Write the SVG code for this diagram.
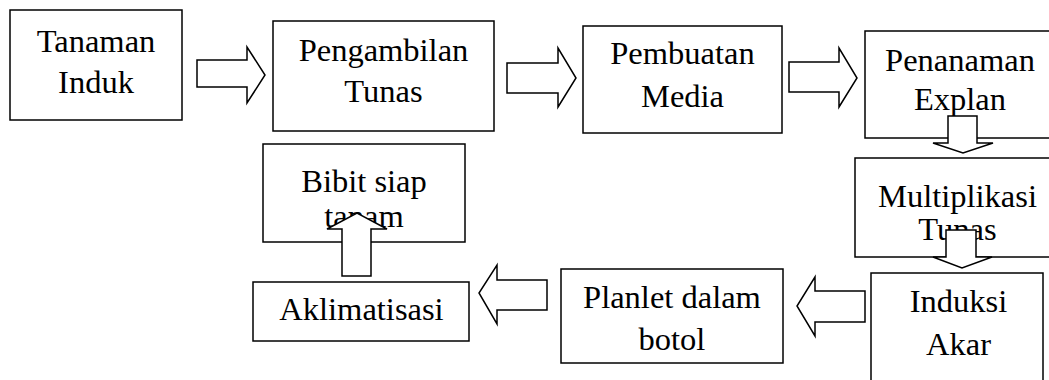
<svg xmlns="http://www.w3.org/2000/svg" width="1049" height="380" viewBox="0 0 1049 380">
  <style>
    .box { fill: #ffffff; stroke: #000000; stroke-width: 1.5; }
    .arrow { fill: #ffffff; stroke: #000000; stroke-width: 1.5; stroke-linejoin: miter; }
    text { font-family: "Liberation Serif", "Times New Roman", serif; font-size: 32.5px; fill: #000000; text-anchor: middle; }
  </style>
  <rect width="1049" height="380" fill="#ffffff"/>

  <g id="nodes">
    <g id="tanaman-induk">
      <rect class="box" x="10" y="10" width="172" height="110"/>
      <text x="96" y="52">Tanaman</text>
      <text x="96" y="93">Induk</text>
    </g>
    <g id="pengambilan-tunas">
      <rect class="box" x="273" y="21" width="221" height="110"/>
      <text x="383.5" y="61">Pengambilan</text>
      <text x="383.5" y="102">Tunas</text>
    </g>
    <g id="pembuatan-media">
      <rect class="box" x="583" y="26" width="199" height="107"/>
      <text x="682.5" y="64">Pembuatan</text>
      <text x="682.5" y="107">Media</text>
    </g>
    <g id="penanaman-explan">
      <rect class="box" x="865" y="31" width="190" height="107"/>
      <text x="960" y="71">Penanaman</text>
      <text x="960" y="110">Explan</text>
    </g>
    <g id="multiplikasi-tunas">
      <rect class="box" x="855" y="158" width="200" height="99"/>
      <text x="957.5" y="207">Multiplikasi</text>
      <text x="957.5" y="240">Tunas</text>
    </g>
    <g id="induksi-akar">
      <rect class="box" x="871" y="273" width="172" height="115"/>
      <text x="958.5" y="312">Induksi</text>
      <text x="958.5" y="355">Akar</text>
    </g>
    <g id="planlet-dalam-botol">
      <rect class="box" x="561" y="269" width="222" height="94"/>
      <text x="672" y="308">Planlet dalam</text>
      <text x="672" y="350">botol</text>
    </g>
    <g id="aklimatisasi">
      <rect class="box" x="253" y="282" width="216" height="59"/>
      <text x="361.5" y="320">Aklimatisasi</text>
    </g>
    <g id="bibit-siap-tanam">
      <rect class="box" x="263" y="144" width="202" height="98"/>
      <text x="364" y="192">Bibit siap</text>
      <text x="364" y="227">tanam</text>
    </g>
  </g>

  <g id="connectors">
    <!-- right-pointing block arrows along the top row -->
    <path class="arrow" d="M197,60 H247 V47 L265,75 L247,103 V87 H197 Z"/>
    <path class="arrow" d="M507,63 H558 V48 L576,78 L558,107 V93 H507 Z"/>
    <path class="arrow" d="M789,62 H839 V48 L857,78 L839,107 V92 H789 Z"/>
    <!-- downward block arrows on the right column -->
    <path class="arrow" d="M948,116 H977 V143 H993 L963,153 L933,143 H948 Z"/>
    <path class="arrow" d="M946,230 H976 V257 H992 L962,268 L933,257 H946 Z"/>
    <!-- left-pointing block arrows along the bottom row -->
    <path class="arrow" d="M865,291 H815 V277 L797,306 L815,336 V322 H865 Z"/>
    <path class="arrow" d="M547,280 H497 V265 L479,293 L497,324 V310 H547 Z"/>
    <!-- upward block arrow into the final node -->
    <path class="arrow" d="M342,276 V229 H327 L357,213 L387,229 H371 V276 Z"/>
  </g>
</svg>
